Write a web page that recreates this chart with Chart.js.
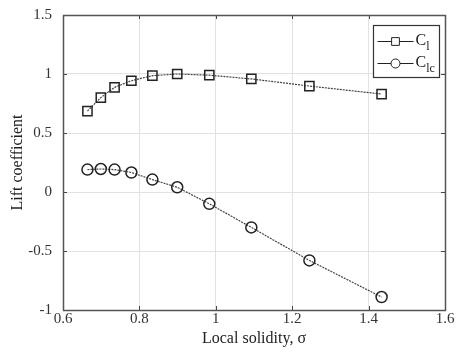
<!DOCTYPE html>
<html>
<head>
<meta charset="utf-8">
<script src="https://cdn.jsdelivr.net/npm/chart.js@4"></script>
<style>
  html, body { margin: 0; background: #fff; }
  #wrap { width: 456px; height: 360px; }
</style>
</head>
<body>
<div id="wrap"><canvas id="liftChart"></canvas></div>
<script>
// data
var solidity = [0.664, 0.699, 0.735, 0.779, 0.834, 0.899, 0.983, 1.093, 1.245, 1.434];
var clValues = [0.686, 0.80, 0.887, 0.943, 0.986, 1.0, 0.99, 0.958, 0.898, 0.83];
var clcValues = [0.19, 0.195, 0.19, 0.165, 0.105, 0.04, -0.10, -0.30, -0.58, -0.89];
var seriesNames = ["C_l", "C_lc"];
var xTicks = [0.6, 0.8, 1, 1.2, 1.4, 1.6];
var yTicks = [-1, -0.5, 0, 0.5, 1, 1.5];

function toPoints(xs, ys) {
  return xs.map(function (x, i) { return {x: x, y: ys[i]}; });
}

var serif = "'Liberation Serif', 'DejaVu Serif', serif";
var ink = "#222";

// box, inward ticks and legend drawn the MATLAB way
var framePlugin = {
  id: "frame",
  afterDraw: function (chart) {
    var ctx = chart.ctx, a = chart.chartArea;
    var xs = chart.scales.x, ys = chart.scales.y;
    ctx.save();
    ctx.strokeStyle = "#444";
    ctx.lineWidth = 1;
    ctx.beginPath();
    xTicks.forEach(function (t) {
      var px = Math.round(xs.getPixelForValue(t)) + 0.5;
      ctx.moveTo(px, a.bottom); ctx.lineTo(px, a.bottom - 4);
      ctx.moveTo(px, a.top); ctx.lineTo(px, a.top + 4);
    });
    yTicks.forEach(function (t) {
      var py = Math.round(ys.getPixelForValue(t)) + 0.5;
      ctx.moveTo(a.left, py); ctx.lineTo(a.left + 4, py);
      ctx.moveTo(a.right, py); ctx.lineTo(a.right - 4, py);
    });
    ctx.stroke();
    ctx.lineWidth = 1.5;
    ctx.strokeStyle = "#555";
    ctx.strokeRect(Math.round(a.left) + 0.5, Math.round(a.top) + 0.5,
      Math.round(a.right - a.left), Math.round(a.bottom - a.top));

    // legend
    var bw = 66, bh = 52;
    var bx = Math.round(a.right - 6 - bw) + 0.5, by = Math.round(a.top + 10) + 0.5;
    ctx.fillStyle = "#fff";
    ctx.fillRect(bx, by, bw, bh);
    ctx.lineWidth = 1.2;
    ctx.strokeStyle = "#333";
    ctx.strokeRect(bx, by, bw, bh);
    chart.data.datasets.forEach(function (ds, i) {
      var cy = by + 16 + i * 22;
      ctx.strokeStyle = ink;
      ctx.lineWidth = 1;
      ctx.setLineDash([]);
      ctx.beginPath();
      ctx.moveTo(bx + 4, cy); ctx.lineTo(bx + 40, cy);
      ctx.stroke();
      ctx.fillStyle = "#fff";
      Chart.helpers.drawPoint(ctx, {
        pointStyle: ds.pointStyle, radius: ds.pointRadius - 1,
        borderWidth: ds.pointBorderWidth
      }, bx + 22, cy);
      var parts = ds.label.split("_");
      ctx.fillStyle = ink;
      ctx.textBaseline = "alphabetic";
      ctx.font = "16px " + serif;
      ctx.fillText(parts[0], bx + 42, cy + 3);
      var w = ctx.measureText(parts[0]).width;
      ctx.font = "12px " + serif;
      ctx.fillText(parts[1], bx + 42 + w, cy + 8);
    });
    ctx.restore();
  }
};

new Chart("liftChart", {
  type: "scatter",
  data: {
    datasets: [{
      label: seriesNames[0],
      data: toPoints(solidity, clValues),
      showLine: true,
      borderColor: "#444",
      borderWidth: 1.2,
      borderDash: [2, 1],
      pointStyle: "rect",
      pointRadius: 6.5,
      pointBorderWidth: 1.5,
      pointBorderColor: ink,
      pointBackgroundColor: "rgba(0,0,0,0)"
    }, {
      label: seriesNames[1],
      data: toPoints(solidity, clcValues),
      showLine: true,
      borderColor: "#444",
      borderWidth: 1.2,
      borderDash: [2, 1],
      pointStyle: "circle",
      pointRadius: 5.5,
      pointBorderWidth: 1.5,
      pointBorderColor: ink,
      pointBackgroundColor: "rgba(0,0,0,0)"
    }]
  },
  options: {
    responsive: true,
    maintainAspectRatio: false,
    animation: false,
    layout: {padding: {left: 4, right: 11, top: 15, bottom: 2}},
    plugins: {
      legend: {display: false},
      tooltip: {enabled: false}
    },
    scales: {
      x: {
        type: "linear",
        min: 0.6, max: 1.6,
        afterBuildTicks: function (s) { s.ticks = xTicks.map(function (v) { return {value: v}; }); },
        afterFit: function (s) { s.height = 48; s.paddingLeft = 0; s.paddingRight = 0; },
        grid: {color: "#e2e2e2", drawTicks: false},
        border: {display: false},
        ticks: {
          padding: 0, color: "#333",
          font: {family: serif, size: 15},
          callback: function (v) { return String(v); }
        },
        title: {
          display: true, text: "Local solidity, σ", color: "#222",
          font: {family: serif, size: 16}, padding: {top: 0, bottom: 10}
        }
      },
      y: {
        min: -1, max: 1.5,
        afterBuildTicks: function (s) { s.ticks = yTicks.map(function (v) { return {value: v}; }); },
        afterFit: function (s) { s.width = 59; s.paddingTop = 0; s.paddingBottom = 0; },
        grid: {color: "#e2e2e2", drawTicks: false},
        border: {display: false},
        ticks: {
          padding: 11, color: "#333",
          font: {family: serif, size: 15},
          callback: function (v) { return String(v); }
        },
        title: {
          display: true, text: "Lift coefficient", color: "#222",
          font: {family: serif, size: 16}, padding: {top: 4, bottom: 0}
        }
      }
    }
  },
  plugins: [framePlugin]
});
</script>
</body>
</html>
